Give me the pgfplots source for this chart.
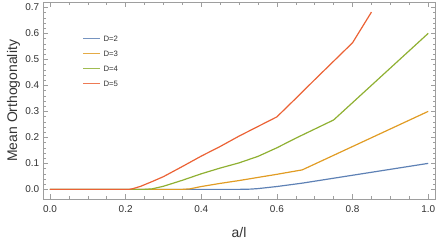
\documentclass[border=0pt]{standalone}
\usepackage{fontspec}
\setmainfont{Liberation Sans}
\usepackage{pgfplots}
\pgfplotsset{compat=1.18}
\definecolor{c1}{rgb}{0.368417,0.506779,0.709798}
\definecolor{c2}{rgb}{0.880722,0.611041,0.142051}
\definecolor{c3}{rgb}{0.560181,0.691569,0.194885}
\definecolor{c4}{rgb}{0.922526,0.385626,0.209179}
\definecolor{framegray}{gray}{0.62}
\definecolor{labelgray}{gray}{0.2}
\begin{document}
\begin{tikzpicture}
\begin{axis}[
  scale only axis, width=392bp, height=196.3bp,
  xmin=-0.0185, xmax=1.018, ymin=-0.037, ymax=0.718,
  axis line style={framegray, line width=0.6bp},
  xtick={0,0.2,0.4,0.6,0.8,1}, ytick={0,0.1,0.2,0.3,0.4,0.5,0.6,0.7},
  minor x tick num=3, minor y tick num=4,
  tick style={framegray, line width=0.5bp},
  major tick length=4.5bp, minor tick length=2.5bp,
  tick align=inside,
  xticklabel style={anchor=base, yshift=-13.3bp, inner sep=0pt, font=\fontsize{10}{12}\selectfont, text=labelgray},
  yticklabel style={anchor=east, xshift=-3.7bp, inner sep=0pt, font=\fontsize{10}{12}\selectfont, text=labelgray},
  /pgf/number format/.cd, fixed, fixed zerofill, precision=1, assume math mode=true, /pgfplots/.cd,
  xlabel={a/l}, ylabel={Mean Orthogonality},
  label style={font=\fontsize{14}{16}\selectfont, text=labelgray},
  xlabel style={at={(axis description cs:0.5,-0.1936)}, anchor=base, inner sep=0pt},
  ylabel style={at={(axis description cs:-0.0663,0.5)}, anchor=base, inner sep=0pt},
  every axis plot/.append style={line width=1.2bp},
]
\addplot[c1] coordinates {(0,0) (0.5,0) (0.53,0.001) (0.55,0.003) (0.6,0.011) (0.667,0.024) (1.0,0.1)};
\addplot[c2] coordinates {(0,0) (0.35,0) (0.37,0.002) (0.4,0.011) (0.45,0.023) (0.5,0.034) (0.55,0.046) (0.6,0.058) (0.667,0.075) (1.0,0.3)};
\addplot[c3] coordinates {(0,0) (0.25,0) (0.27,0.002) (0.3,0.012) (0.35,0.035) (0.4,0.06) (0.45,0.082) (0.5,0.102) (0.55,0.127) (0.6,0.16) (0.65,0.197) (0.7,0.232) (0.75,0.267) (1.0,0.6)};
\addplot[c4] coordinates {(0,0) (0.21,0) (0.22,0.003) (0.24,0.012) (0.27,0.03) (0.3,0.049) (0.35,0.088) (0.4,0.128) (0.45,0.165) (0.5,0.205) (0.55,0.242) (0.6,0.279) (0.65,0.35) (0.7,0.422) (0.75,0.493) (0.8,0.564) (0.85,0.682)};
\end{axis}
% legend keys (axis box spans (0,0)--(392bp,196.3bp))
\fill[c1!85!white] (40bp,159.7bp) rectangle (57bp,161.4bp);
\fill[c2!85!white] (40bp,144.7bp) rectangle (57bp,146.4bp);
\fill[c3!85!white] (40bp,129.7bp) rectangle (57bp,131.4bp);
\fill[c4!85!white] (40bp,114.7bp) rectangle (57bp,116.4bp);
\node[anchor=west, inner sep=0pt, text=labelgray, font=\fontsize{7.8}{9}\selectfont] at (60.3bp,160.5bp) {D=2};
\node[anchor=west, inner sep=0pt, text=labelgray, font=\fontsize{7.8}{9}\selectfont] at (60.3bp,145.5bp) {D=3};
\node[anchor=west, inner sep=0pt, text=labelgray, font=\fontsize{7.8}{9}\selectfont] at (60.3bp,130.5bp) {D=4};
\node[anchor=west, inner sep=0pt, text=labelgray, font=\fontsize{7.8}{9}\selectfont] at (60.3bp,115.5bp) {D=5};
\pgfresetboundingbox
\path (-43bp,-41bp) rectangle (393bp,199bp);
\end{tikzpicture}
\end{document}
